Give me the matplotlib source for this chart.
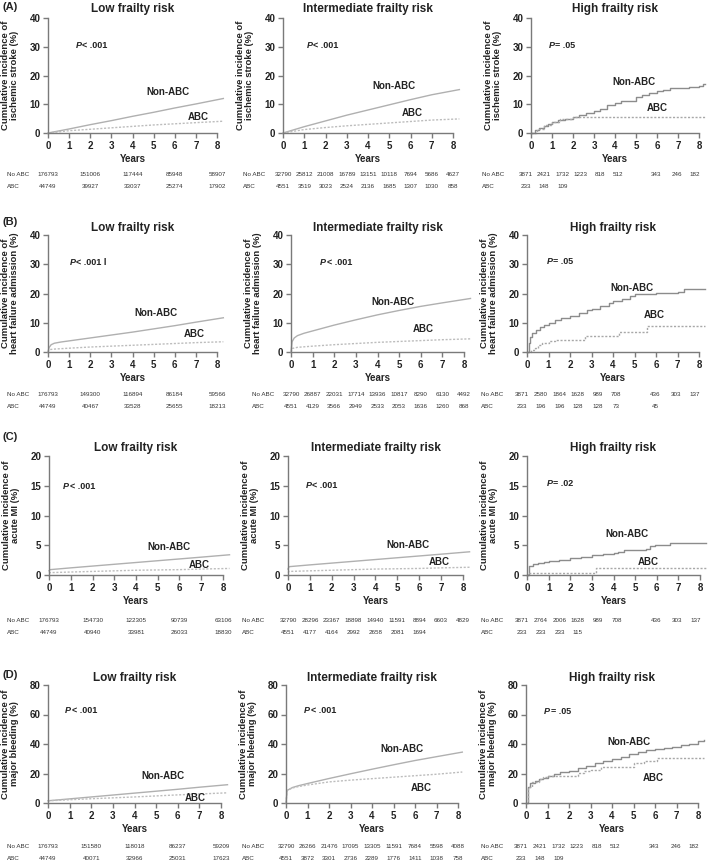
import matplotlib.pyplot as plt
import matplotlib.transforms as mtransforms

W, H = 709, 861
plt.rcParams['font.family'] = ['Liberation Sans', 'DejaVu Sans']

# ---------------- data ----------------
titles = ['Low frailty risk', 'Intermediate frailty risk', 'High frailty risk']
panel_tags = ['(A)', '(B)', '(C)', '(D)']
ylabels = ['Cumulative incidence of\nischemic stroke (%)',
           'Cumulative incidence of\nheart failure admission (%)',
           'Cumulative incidence of\nacute MI (%)',
           'Cumulative incidence of\nmajor bleeding (%)']
ymax = [40, 40, 20, 80]
ystep = [10, 10, 5, 20]
pvals = [['< .001', '< .001', '= .05'],
         ['< .001 l', '< .001', '= .05'],
         ['< .001', '< .001', '= .02'],
         ['< .001', '< .001', '= .05']]

# (A) ischemic stroke
stroke_low_t = [0, 1, 2, 3, 4, 5, 6, 7, 8.3]
stroke_low_non = [0, 1.4, 2.9, 4.3, 5.8, 7.2, 8.7, 10.1, 12.0]
stroke_low_abc = [0, 0.8, 1.3, 1.8, 2.3, 2.8, 3.2, 3.6, 4.1]
stroke_int_t = [0, 1, 2, 3, 4, 5, 6, 7, 8.3]
stroke_int_non = [0, 2.2, 4.2, 6.2, 8.0, 9.8, 11.6, 13.3, 15.1]
stroke_int_abc = [0, 1.2, 1.9, 2.5, 3.0, 3.5, 4.0, 4.5, 4.9]
stroke_high_non_t = [0, 0.2, 0.4, 0.6, 0.8, 1.0, 1.3, 1.6, 2.0, 2.3, 2.6, 3.0, 3.3, 3.6,
                     4.0, 4.3, 4.8, 5.0, 5.3, 5.6, 6.0, 6.3, 6.6, 7.0, 7.5, 8.0, 8.2, 8.3]
stroke_high_non = [0, 1.0, 1.8, 2.5, 3.2, 3.8, 4.4, 5.0, 5.6, 6.2, 6.8, 7.6, 8.3, 9.6,
                   10.3, 11.0, 11.3, 12.6, 13.2, 13.8, 14.6, 15.0, 15.5, 15.8, 16.0, 16.2, 16.9, 16.9]
stroke_high_abc_t = [0, 0.3, 0.6, 1.0, 1.4, 2.0, 8.3]
stroke_high_abc = [0, 1.5, 2.8, 3.9, 4.8, 5.7, 5.7]

# (B) heart failure admission
hf_low_non_t = [0, 0.05, 0.15, 0.3, 0.6, 1, 2, 3, 4, 5, 6, 7, 8.3]
hf_low_non = [0, 1.5, 2.5, 3.0, 3.4, 3.8, 4.8, 5.8, 6.8, 7.9, 9.0, 10.2, 11.7]
hf_low_abc_t = [0, 0.05, 0.3, 1, 2, 3, 4, 5, 6, 7, 8.3]
hf_low_abc = [0, 0.8, 1.0, 1.3, 1.7, 2.0, 2.3, 2.6, 2.9, 3.2, 3.5]
hf_int_non_t = [0, 0.05, 0.15, 0.3, 0.6, 1, 2, 3, 4, 5, 6, 7, 8.3]
hf_int_non = [0, 3.5, 4.8, 5.6, 6.4, 7.2, 9.2, 11.0, 12.7, 14.2, 15.6, 16.8, 18.3]
hf_int_abc_t = [0, 0.05, 0.3, 1, 2, 3, 4, 5, 6, 7, 8.3]
hf_int_abc = [0, 1.2, 1.6, 2.0, 2.5, 2.9, 3.3, 3.6, 3.9, 4.2, 4.5]
hf_high_non_t = [0, 0.1, 0.15, 0.25, 0.4, 0.6, 0.8, 1.0, 1.3, 1.6, 2.0, 2.4, 2.8, 3.0,
                 3.4, 3.8, 4.0, 4.4, 4.8, 5.0, 5.5, 6.0, 6.5, 7.0, 7.3, 8.3]
hf_high_non = [0, 3.0, 5.0, 6.5, 7.5, 8.5, 9.3, 10.0, 10.8, 11.5, 12.4, 13.3, 14.2, 14.8,
               15.7, 16.7, 17.5, 18.2, 19.0, 19.7, 20.0, 20.2, 20.3, 20.6, 21.5, 21.5]
hf_high_abc_t = [0, 0.2, 0.35, 0.5, 0.7, 1.0, 1.3, 2.7, 4.3, 5.6, 8.3]
hf_high_abc = [0, 0.8, 1.5, 2.3, 3.0, 3.6, 4.0, 5.5, 7.0, 9.0, 9.0]

# (C) acute MI
mi_low_t = [0, 0.05, 1, 2, 3, 4, 5, 6, 7, 8.3]
mi_low_non = [0.7, 0.9, 1.2, 1.5, 1.8, 2.1, 2.4, 2.7, 3.0, 3.4]
mi_low_abc = [0.3, 0.4, 0.5, 0.6, 0.7, 0.8, 0.85, 0.9, 1.0, 1.1]
mi_int_t = [0, 0.05, 1, 2, 3, 4, 5, 6, 7, 8.3]
mi_int_non = [1.0, 1.4, 1.7, 2.0, 2.3, 2.6, 2.9, 3.2, 3.5, 3.9]
mi_int_abc = [0.4, 0.6, 0.7, 0.8, 0.9, 1.0, 1.05, 1.1, 1.2, 1.3]
mi_high_non_t = [0, 0.1, 0.3, 0.5, 0.8, 1.0, 1.5, 2.0, 2.5, 3.0, 3.5, 4.0, 4.2, 4.5,
                 5.0, 5.5, 5.7, 5.9, 6.6, 8.3]
mi_high_non = [0, 1.5, 1.8, 2.0, 2.2, 2.4, 2.6, 2.9, 3.1, 3.4, 3.5, 3.7, 3.9, 4.2,
               4.2, 4.3, 4.8, 5.0, 5.3, 5.3]
mi_high_abc_t = [0, 0.05, 3.2, 8.3]
mi_high_abc = [0, 0.3, 1.1, 1.1]

# (D) major bleeding
bleed_low_t = [0, 1, 2, 3, 4, 5, 6, 7, 8.3]
bleed_low_non = [1.5, 2.8, 4.1, 5.4, 6.7, 8.0, 9.3, 10.7, 12.4]
bleed_low_abc = [1.5, 2.2, 2.9, 3.5, 4.1, 4.8, 5.5, 6.1, 6.9]
bleed_int_t = [0, 0.05, 0.3, 0.6, 1, 2, 3, 4, 5, 6, 7, 8.2]
bleed_int_non = [0, 8.5, 10.5, 11.8, 13.2, 16.6, 19.8, 22.9, 25.9, 28.8, 31.4, 34.5]
bleed_int_abc = [0, 8.5, 10.2, 11.2, 12.2, 14.3, 15.5, 16.5, 17.5, 18.5, 19.5, 21.0]
bleed_high_non_t = [0, 0.08, 0.2, 0.4, 0.6, 0.8, 1.0, 1.3, 1.6, 2.0, 2.4, 2.8, 3.2,
                    3.6, 4.0, 4.4, 4.8, 5.2, 5.6, 6.0, 6.4, 6.8, 7.2, 7.6, 8.0, 8.3]
bleed_high_non = [0, 11.0, 13.5, 15.0, 16.2, 17.2, 18.2, 19.5, 20.7, 22.0, 23.5, 25.2, 27.0,
                  28.2, 29.8, 31.5, 33.2, 34.7, 35.8, 36.5, 37.2, 38.2, 39.3, 40.3, 41.8, 42.8]
bleed_high_abc_t = [0, 0.08, 0.3, 0.6, 0.8, 1.0, 2.2, 2.4, 2.7, 3.0, 3.5, 5.0, 5.5, 6.1, 8.3]
bleed_high_abc = [0, 11.0, 14.0, 16.0, 17.5, 18.5, 18.5, 20.5, 21.5, 22.3, 24.3, 26.8, 28.3, 30.6, 30.6]

curves = [
    [(stroke_low_t, stroke_low_non, stroke_low_t, stroke_low_abc),
     (stroke_int_t, stroke_int_non, stroke_int_t, stroke_int_abc),
     (stroke_high_non_t, stroke_high_non, stroke_high_abc_t, stroke_high_abc)],
    [(hf_low_non_t, hf_low_non, hf_low_abc_t, hf_low_abc),
     (hf_int_non_t, hf_int_non, hf_int_abc_t, hf_int_abc),
     (hf_high_non_t, hf_high_non, hf_high_abc_t, hf_high_abc)],
    [(mi_low_t, mi_low_non, mi_low_t, mi_low_abc),
     (mi_int_t, mi_int_non, mi_int_t, mi_int_abc),
     (mi_high_non_t, mi_high_non, mi_high_abc_t, mi_high_abc)],
    [(bleed_low_t, bleed_low_non, bleed_low_t, bleed_low_abc),
     (bleed_int_t, bleed_int_non, bleed_int_t, bleed_int_abc),
     (bleed_high_non_t, bleed_high_non, bleed_high_abc_t, bleed_high_abc)],
]

# numbers at risk
risk_no = [
    [[176793, 151006, 117444, 85948, 58907],
     [32790, 25812, 21008, 16789, 13151, 10118, 7694, 5686, 4627],
     [3871, 2421, 1732, 1223, 818, 512, 343, 246, 182]],
    [[176793, 149300, 116894, 86184, 59566],
     [32790, 26887, 22031, 17714, 13936, 10817, 8290, 6130, 4492],
     [3871, 2580, 1864, 1628, 989, 708, 436, 303, 137]],
    [[176793, 154730, 122305, 90739, 63106],
     [32790, 28296, 23367, 18898, 14940, 11591, 8894, 6603, 4829],
     [3871, 2764, 2006, 1628, 989, 708, 436, 303, 137]],
    [[176793, 151580, 118018, 86237, 59209],
     [32790, 26266, 21476, 17095, 13305, 11591, 7684, 5598, 4088],
     [3871, 2421, 1732, 1223, 818, 512, 343, 246, 182]],
]
risk_abc = [
    [[44749, 39927, 33037, 25274, 17902],
     [4551, 3519, 3023, 2524, 2136, 1685, 1307, 1030, 858],
     [233, 148, 109]],
    [[44749, 40467, 33528, 25655, 18213],
     [4551, 4129, 3566, 2949, 2533, 2053, 1636, 1260, 868],
     [233, 196, 196, 128, 128, 73, 45]],
    [[44749, 40940, 33981, 26033, 18830],
     [4551, 4177, 4164, 2992, 2658, 2081, 1694],
     [233, 233, 233, 115]],
    [[44749, 40071, 32966, 25031, 17623],
     [4551, 3872, 3301, 2736, 2289, 1776, 1411, 1038, 758],
     [233, 148, 109]],
]

# ---------------- layout (pixels) ----------------
# per row: y of 0, y of top, title y, table rows y, tag y
row_px = [(133, 18, 9, 174, 187, 7),
          (352, 235, 228, 394, 407, 222),
          (575, 456, 448, 621, 633, 437),
          (803, 685, 678, 846, 858, 675)]
# per row, per column: x of year 0, x of year 8, table label x
col_px = [[(48, 217, 7), (283, 453, 243), (531, 699, 482)],
          [(48, 217, 7), (291, 464, 252), (527, 699, 481)],
          [(49, 223, 7), (288, 463, 242), (527, 700, 481)],
          [(48, 221, 7), (286, 458, 242), (526, 698, 481)]]
tbl_cols = [[0, 2, 4, 6, 8],
            [0, 1, 2, 3, 4, 5, 6, 7, 8],
            [-0.25, 0.62, 1.5, 2.35, 3.3, 4.15, 5.95, 6.95, 7.8]]
# text spots (data coords): P, Non-ABC, ABC
txt_pos = [
    [((1.3, 30.5), (5.7, 14.1), (7.1, 5.5)),
     ((1.1, 30.5), (5.2, 16.5), (6.1, 7.0)),
     ((0.86, 30.5), (4.9, 17.7), (6.0, 8.7))],
    [((1.04, 30.7), (5.1, 13.4), (6.9, 6.2)),
     ((1.35, 30.7), (4.7, 17.2), (6.1, 7.9)),
     ((0.9, 30.8), (4.9, 21.9), (5.9, 12.6))],
    [((0.65, 14.9), (5.5, 4.7), (6.9, 1.7)),
     ((0.8, 15.0), (5.5, 5.0), (6.9, 2.2)),
     ((0.9, 15.4), (4.6, 6.9), (5.6, 2.2))],
    [((0.8, 63), (5.3, 18.3), (6.8, 3.4)),
     ((0.85, 63), (5.4, 36.6), (6.3, 10.2)),
     ((0.85, 61.7), (4.8, 41.4), (5.9, 17))],
]

XMAX = 8.3
axis_col = '#7a7a7a'
txt_col = '#222222'

fig = plt.figure(figsize=(W / 100, H / 100), dpi=100)

for r in range(4):
    y0, ytop, ty, ry1, ry2, tagy = row_px[r]
    fig.text(10 / W, 1 - tagy / H, panel_tags[r], fontsize=8, weight='bold',
             ha='center', va='center', color=txt_col)
    for c in range(3):
        x0, x8, lx = col_px[r][c]
        unit = (x8 - x0) / 8
        right = x0 + XMAX * unit
        ax = fig.add_axes([x0 / W, 1 - y0 / H, (right - x0) / W, (y0 - ytop) / H])
        ax.patch.set_alpha(0)
        ax.set_xlim(0, XMAX)
        ax.set_ylim(0, ymax[r])
        for s in ['top', 'right']:
            ax.spines[s].set_visible(False)
        for s in ['left', 'bottom']:
            ax.spines[s].set_color(axis_col)
            ax.spines[s].set_linewidth(1.0)
        ax.spines['bottom'].set_bounds(0, 8)
        ax.set_xticks(range(9))
        ax.set_yticks(range(0, ymax[r] + 1, ystep[r]))
        ax.tick_params(direction='out', length=3.5, width=1.0, color=axis_col,
                       labelsize=7, labelcolor=txt_col, pad=2)
        for lab in ax.get_xticklabels() + ax.get_yticklabels():
            lab.set_fontweight('bold')

        tn, yn, ta, ya = curves[r][c]
        if c == 2:
            ax.plot(tn, yn, drawstyle='steps-post', color='#8c8c8c', lw=1.0, clip_on=False)
            ax.plot(ta, ya, drawstyle='steps-post', color='#a8a8a8', lw=1.0,
                    ls=(0, (1.5, 1.2)), clip_on=False)
        else:
            ax.plot(tn, yn, color='#b0b0b0', lw=1.0, clip_on=False)
            ax.plot(ta, ya, color='#bdbdbd', lw=1.0, ls=(0, (1.5, 1.2)), clip_on=False)

        (px, py), (nx, ny), (ax_, ay) = txt_pos[r][c]
        ax.text(px, py, 'P', fontsize=6.5, weight='bold', style='italic',
                ha='left', va='center', color=txt_col)
        ax.annotate(pvals[r][c], xy=(px, py), xytext=(4.6, 0), textcoords='offset points',
                    fontsize=6.5, weight='bold', ha='left', va='center', color=txt_col)
        ax.text(nx, ny, 'Non-ABC', fontsize=7, weight='bold', ha='center', va='center',
                color=txt_col)
        ax.text(ax_, ay, 'ABC', fontsize=7, weight='bold', ha='center', va='center',
                color=txt_col)

        ax.text(4, 1 - (ty) / H, titles[c], transform=mtransforms.blended_transform_factory(
            ax.transData, fig.transFigure), fontsize=8.5, weight='bold', ha='center',
            va='center', color=txt_col)
        fig.text((x0 - 38) / W, 1 - (y0 + ytop) / 2 / H, ylabels[r], rotation=90,
                 fontsize=6.8, weight='bold', ha='center', va='center',
                 multialignment='center', color=txt_col, linespacing=1.05)
        ax.text(4, 1 - (y0 + 26) / H, 'Years', transform=mtransforms.blended_transform_factory(
            ax.transData, fig.transFigure), fontsize=7, weight='bold', ha='center',
            va='center', color=txt_col)

        # numbers at risk
        tr = mtransforms.blended_transform_factory(ax.transData, fig.transFigure)
        fig.text(lx / W, 1 - ry1 / H, 'No ABC', fontsize=4.5, ha='left', va='center',
                 color='#333333')
        fig.text(lx / W, 1 - ry2 / H, 'ABC', fontsize=4.5, ha='left', va='center',
                 color='#333333')
        for xp, v in zip(tbl_cols[c], risk_no[r][c]):
            ax.text(xp, 1 - ry1 / H, str(v), transform=tr, fontsize=4.5, ha='center',
                    va='center', color='#333333')
        for xp, v in zip(tbl_cols[c], risk_abc[r][c]):
            ax.text(xp, 1 - ry2 / H, str(v), transform=tr, fontsize=4.5, ha='center',
                    va='center', color='#333333')

fig.savefig('out.png', dpi=100)
